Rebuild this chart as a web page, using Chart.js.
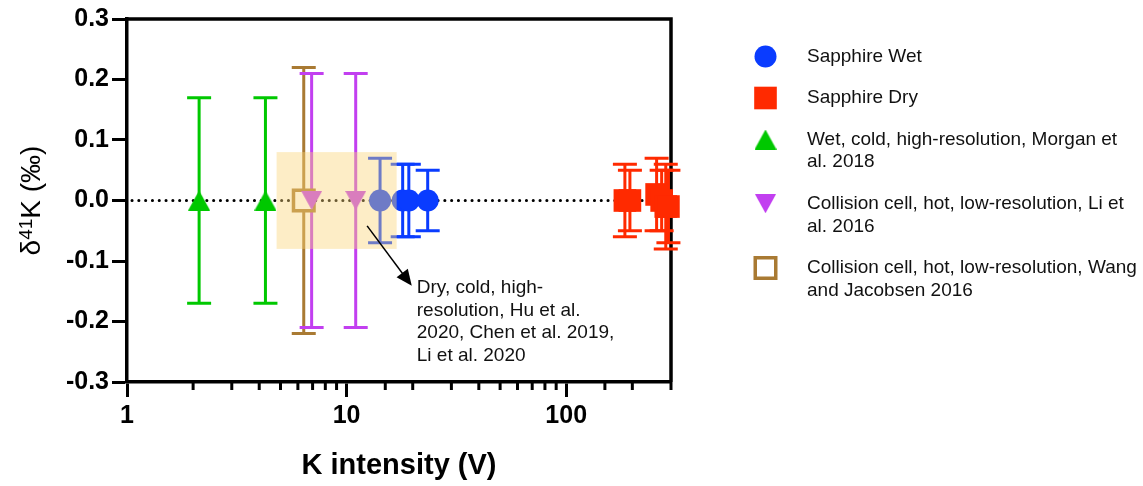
<!DOCTYPE html>
<html>
<head>
<meta charset="utf-8">
<script src="https://cdn.jsdelivr.net/npm/chart.js@4.4.0/dist/chart.umd.min.js"></script>
<style>
  html, body { margin: 0; padding: 0; background: #fff; }
  #wrap { position: relative; width: 1143px; height: 486px; }
</style>
</head>
<body>
<div id="wrap"><canvas id="kChart"></canvas></div>
<script>
'use strict';

// K intensity (V), delta41K and error for each group
const wetX = [14.2, 18, 19.2, 23.4];
const wetY = [0, 0, 0, 0];
const wetErr = [0.07, 0.06, 0.06, 0.05];

const dryX = [185, 195, 258, 272, 284, 292];
const dryY = [0, 0, 0.01, 0, -0.01, -0.01];
const dryErr = [0.06, 0.05, 0.06, 0.05, 0.07, 0.06];

const morganX = [2.13, 4.27];
const morganY = [0, 0];
const morganErr = [0.17, 0.17];

const liX = [6.93, 11.0];
const liY = [0, 0];
const liErr = [0.21, 0.21];

const wangX = [6.38];
const wangY = [0];
const wangErr = [0.22];

// shaded range of the dry, cold, high-resolution literature data
const bandX = [4.8, 16.9];
const bandY = [-0.08, 0.08];

const yTicks = [-0.3, -0.2, -0.1, 0, 0.1, 0.2, 0.3];
const xTickLabels = [1, 10, 100];

const noteLines = ['Dry, cold, high-', 'resolution, Hu et al.', '2020, Chen et al. 2019,', 'Li et al. 2020'];

const FONT = '"Liberation Sans", Arial, Helvetica, sans-serif';

function toPoints(xs, ys, errs) {
    return xs.map(function(x, i) {
        return { x: x, y: ys[i], err: errs[i] };
    });
}

function isDecade(v) {
    const l = Math.log10(v);
    return Math.abs(l - Math.round(l)) < 1e-9;
}

// triangle marker centred on its bounding box (like the Prism markers)
function triangleMarker(color, w, h, down) {
    const c = document.createElement('canvas');
    c.width = w;
    c.height = h;
    const g = c.getContext('2d');
    g.fillStyle = color;
    g.beginPath();
    if (down) {
        g.moveTo(0, 0);
        g.lineTo(w, 0);
        g.lineTo(w / 2, h);
    } else {
        g.moveTo(w / 2, 0);
        g.lineTo(w, h);
        g.lineTo(0, h);
    }
    g.closePath();
    g.fill();
    return c;
}

document.addEventListener('DOMContentLoaded', function() {
    const datasets = [
        {
            label: ['Sapphire Wet'],
            data: toPoints(wetX, wetY, wetErr),
            pointStyle: 'circle',
            pointRadius: 11,
            backgroundColor: '#0a3cff',
            borderColor: '#0a3cff',
            borderWidth: 0
        },
        {
            label: ['Sapphire Dry'],
            data: toPoints(dryX, dryY, dryErr),
            pointStyle: 'rect',
            pointRadius: 16,
            backgroundColor: '#ff2a00',
            borderColor: '#ff2a00',
            borderWidth: 0
        },
        {
            label: ['Wet, cold, high-resolution, Morgan et', 'al. 2018'],
            data: toPoints(morganX, morganY, morganErr),
            pointStyle: triangleMarker('#00c800', 22, 20, false),
            pointRadius: 11,
            backgroundColor: '#00c800',
            borderColor: '#00c800',
            borderWidth: 0
        },
        {
            label: ['Collision cell, hot, low-resolution, Li et', 'al. 2016'],
            data: toPoints(liX, liY, liErr),
            pointStyle: triangleMarker('#c23ff0', 21, 19, true),
            pointRadius: 11,
            backgroundColor: '#c23ff0',
            borderColor: '#c23ff0',
            borderWidth: 0
        },
        {
            label: ['Collision cell, hot, low-resolution, Wang', 'and Jacobsen 2016'],
            data: toPoints(wangX, wangY, wangErr),
            pointStyle: 'rect',
            pointRadius: 14.5,
            backgroundColor: '#ffffff',
            borderColor: '#a97a33',
            borderWidth: 3.5
        }
    ];

    // zero line, frame and error bars go under the markers
    const underlay = {
        id: 'underlay',
        beforeDatasetsDraw: function(chart) {
            const ctx = chart.ctx;
            const area = chart.chartArea;
            const x = chart.scales.x;
            const y = chart.scales.y;
            ctx.save();

            // dotted line at zero
            const y0 = y.getPixelForValue(0);
            ctx.beginPath();
            ctx.setLineDash([0.1, 6.7]);
            ctx.lineCap = 'round';
            ctx.lineWidth = 3;
            ctx.strokeStyle = '#000';
            ctx.moveTo(area.left + 5, y0);
            ctx.lineTo(area.right, y0);
            ctx.stroke();
            ctx.setLineDash([]);
            ctx.lineCap = 'butt';

            // top and right sides of the frame
            ctx.beginPath();
            ctx.lineWidth = 3.5;
            ctx.moveTo(area.left, area.top);
            ctx.lineTo(area.right, area.top);
            ctx.lineTo(area.right, area.bottom);
            ctx.stroke();

            // minor ticks on the log axis
            ctx.lineWidth = 3;
            x.ticks.forEach(function(t) {
                if (isDecade(t.value)) return;
                const px = x.getPixelForValue(t.value);
                ctx.beginPath();
                ctx.moveTo(px, area.bottom);
                ctx.lineTo(px, area.bottom + 8);
                ctx.stroke();
            });

            // error bars, last dataset first so the order matches the markers
            for (let i = chart.data.datasets.length - 1; i >= 0; i--) {
                const ds = chart.data.datasets[i];
                const color = ds.borderWidth > 0 ? ds.borderColor : ds.backgroundColor;
                ctx.strokeStyle = color;
                ctx.lineWidth = 3;
                ds.data.forEach(function(p) {
                    const px = x.getPixelForValue(p.x);
                    const top = y.getPixelForValue(p.y + p.err);
                    const bot = y.getPixelForValue(p.y - p.err);
                    ctx.beginPath();
                    ctx.moveTo(px, top);
                    ctx.lineTo(px, bot);
                    ctx.moveTo(px - 12, top);
                    ctx.lineTo(px + 12, top);
                    ctx.moveTo(px - 12, bot);
                    ctx.lineTo(px + 12, bot);
                    ctx.stroke();
                });
            }
            ctx.restore();
        },
        afterDatasetsDraw: function(chart) {
            const ctx = chart.ctx;
            const x = chart.scales.x;
            const y = chart.scales.y;
            const l = x.getPixelForValue(bandX[0]);
            const r = x.getPixelForValue(bandX[1]);
            const t = y.getPixelForValue(bandY[1]);
            const b = y.getPixelForValue(bandY[0]);
            ctx.save();
            ctx.fillStyle = 'rgba(250, 212, 120, 0.42)';
            ctx.fillRect(l, t, r - l, b - t);
            ctx.restore();
        }
    };

    // legend, annotation arrow and y title
    const overlay = {
        id: 'overlay',
        afterDraw: function(chart) {
            const ctx = chart.ctx;
            const area = chart.chartArea;
            const x = chart.scales.x;
            const y = chart.scales.y;
            ctx.save();

            // legend on the right
            let ly = 56.5;
            chart.data.datasets.forEach(function(ds) {
                ctx.fillStyle = ds.backgroundColor;
                ctx.strokeStyle = ds.borderColor;
                ctx.lineWidth = ds.borderWidth;
                Chart.helpers.drawPoint(ctx, {
                    pointStyle: ds.pointStyle,
                    radius: ds.pointRadius,
                    rotation: 0,
                    borderWidth: ds.borderWidth
                }, 765.5, ly);
                ctx.fillStyle = '#111';
                ctx.font = '19px ' + FONT;
                ctx.textAlign = 'left';
                ctx.textBaseline = 'middle';
                ds.label.forEach(function(line, k) {
                    ctx.fillText(line, 807, ly + k * 22.7);
                });
                ly += 41.5 + (ds.label.length - 1) * 22.7;
            });

            // arrow from the shaded band to its note
            const sx = x.getPixelForValue(12.4);
            const sy = y.getPixelForValue(-0.042);
            const tx = x.getPixelForValue(19.8);
            const ty = y.getPixelForValue(-0.141);
            const ang = Math.atan2(ty - sy, tx - sx);
            ctx.strokeStyle = '#000';
            ctx.fillStyle = '#000';
            ctx.lineWidth = 1.5;
            ctx.beginPath();
            ctx.moveTo(sx, sy);
            ctx.lineTo(tx - 12 * Math.cos(ang), ty - 12 * Math.sin(ang));
            ctx.stroke();
            ctx.beginPath();
            ctx.moveTo(tx, ty);
            ctx.lineTo(tx - 16 * Math.cos(ang) + 7 * Math.sin(ang), ty - 16 * Math.sin(ang) - 7 * Math.cos(ang));
            ctx.lineTo(tx - 16 * Math.cos(ang) - 7 * Math.sin(ang), ty - 16 * Math.sin(ang) + 7 * Math.cos(ang));
            ctx.closePath();
            ctx.fill();

            ctx.fillStyle = '#111';
            ctx.font = '19px ' + FONT;
            ctx.textAlign = 'left';
            ctx.textBaseline = 'middle';
            noteLines.forEach(function(line, k) {
                ctx.fillText(line, tx + 5, ty + 2 + k * 22.5);
            });

            // y axis title with superscript mass number
            ctx.translate(31, (area.top + area.bottom) / 2);
            ctx.rotate(-Math.PI / 2);
            ctx.fillStyle = '#000';
            ctx.textAlign = 'left';
            ctx.textBaseline = 'alphabetic';
            const parts = [
                { t: '\u03b4', f: '28px ' + FONT, dy: 0 },
                { t: '41', f: '19px ' + FONT, dy: -8 },
                { t: 'K (\u2030)', f: '28px ' + FONT, dy: 0 }
            ];
            let total = 0;
            parts.forEach(function(p) {
                ctx.font = p.f;
                p.w = ctx.measureText(p.t).width;
                total += p.w;
            });
            let cx = -total / 2;
            parts.forEach(function(p) {
                ctx.font = p.f;
                ctx.fillText(p.t, cx, 9 + p.dy);
                cx += p.w;
            });
            ctx.restore();
        }
    };

    const canvas = document.getElementById('kChart');
    new Chart(canvas.getContext('2d'), {
        type: 'scatter',
        data: { datasets: datasets },
        options: {
            responsive: true,
            maintainAspectRatio: false,
            animation: false,
            layout: { padding: { left: 0, top: 19, right: 472, bottom: 0 } },
            datasets: { scatter: { clip: false } },
            plugins: {
                legend: { display: false },
                tooltip: { enabled: false }
            },
            scales: {
                x: {
                    type: 'logarithmic',
                    min: 1,
                    max: 300,
                    afterFit: function(scale) { scale.height = 104; },
                    border: { display: true, color: '#000', width: 3.5 },
                    grid: {
                        drawOnChartArea: false,
                        drawTicks: true,
                        tickLength: 15,
                        tickWidth: 3,
                        tickColor: function(c) {
                            return c.tick && isDecade(c.tick.value) ? '#000' : 'rgba(0,0,0,0)';
                        }
                    },
                    ticks: {
                        autoSkip: false,
                        maxRotation: 0,
                        padding: 4,
                        color: '#000',
                        font: { family: FONT, size: 25, weight: 'bold' },
                        callback: function(v) {
                            return xTickLabels.indexOf(v) >= 0 ? String(v) : '';
                        }
                    },
                    title: {
                        display: true,
                        text: 'K intensity (V)',
                        color: '#000',
                        font: { family: FONT, size: 29, weight: 'bold' },
                        padding: { top: 0, bottom: 3 }
                    }
                },
                y: {
                    min: -0.3,
                    max: 0.3,
                    afterFit: function(scale) { scale.width = 127; },
                    afterBuildTicks: function(scale) {
                        scale.ticks = yTicks.map(function(v) { return { value: v }; });
                    },
                    border: { display: true, color: '#000', width: 3.5 },
                    grid: {
                        drawOnChartArea: false,
                        drawTicks: true,
                        tickLength: 15,
                        tickWidth: 3,
                        tickColor: '#000'
                    },
                    ticks: {
                        padding: 3,
                        color: '#000',
                        font: { family: FONT, size: 25, weight: 'bold' },
                        callback: function(v) { return v.toFixed(1); }
                    }
                }
            }
        },
        plugins: [underlay, overlay]
    });
});
</script>
</body>
</html>
